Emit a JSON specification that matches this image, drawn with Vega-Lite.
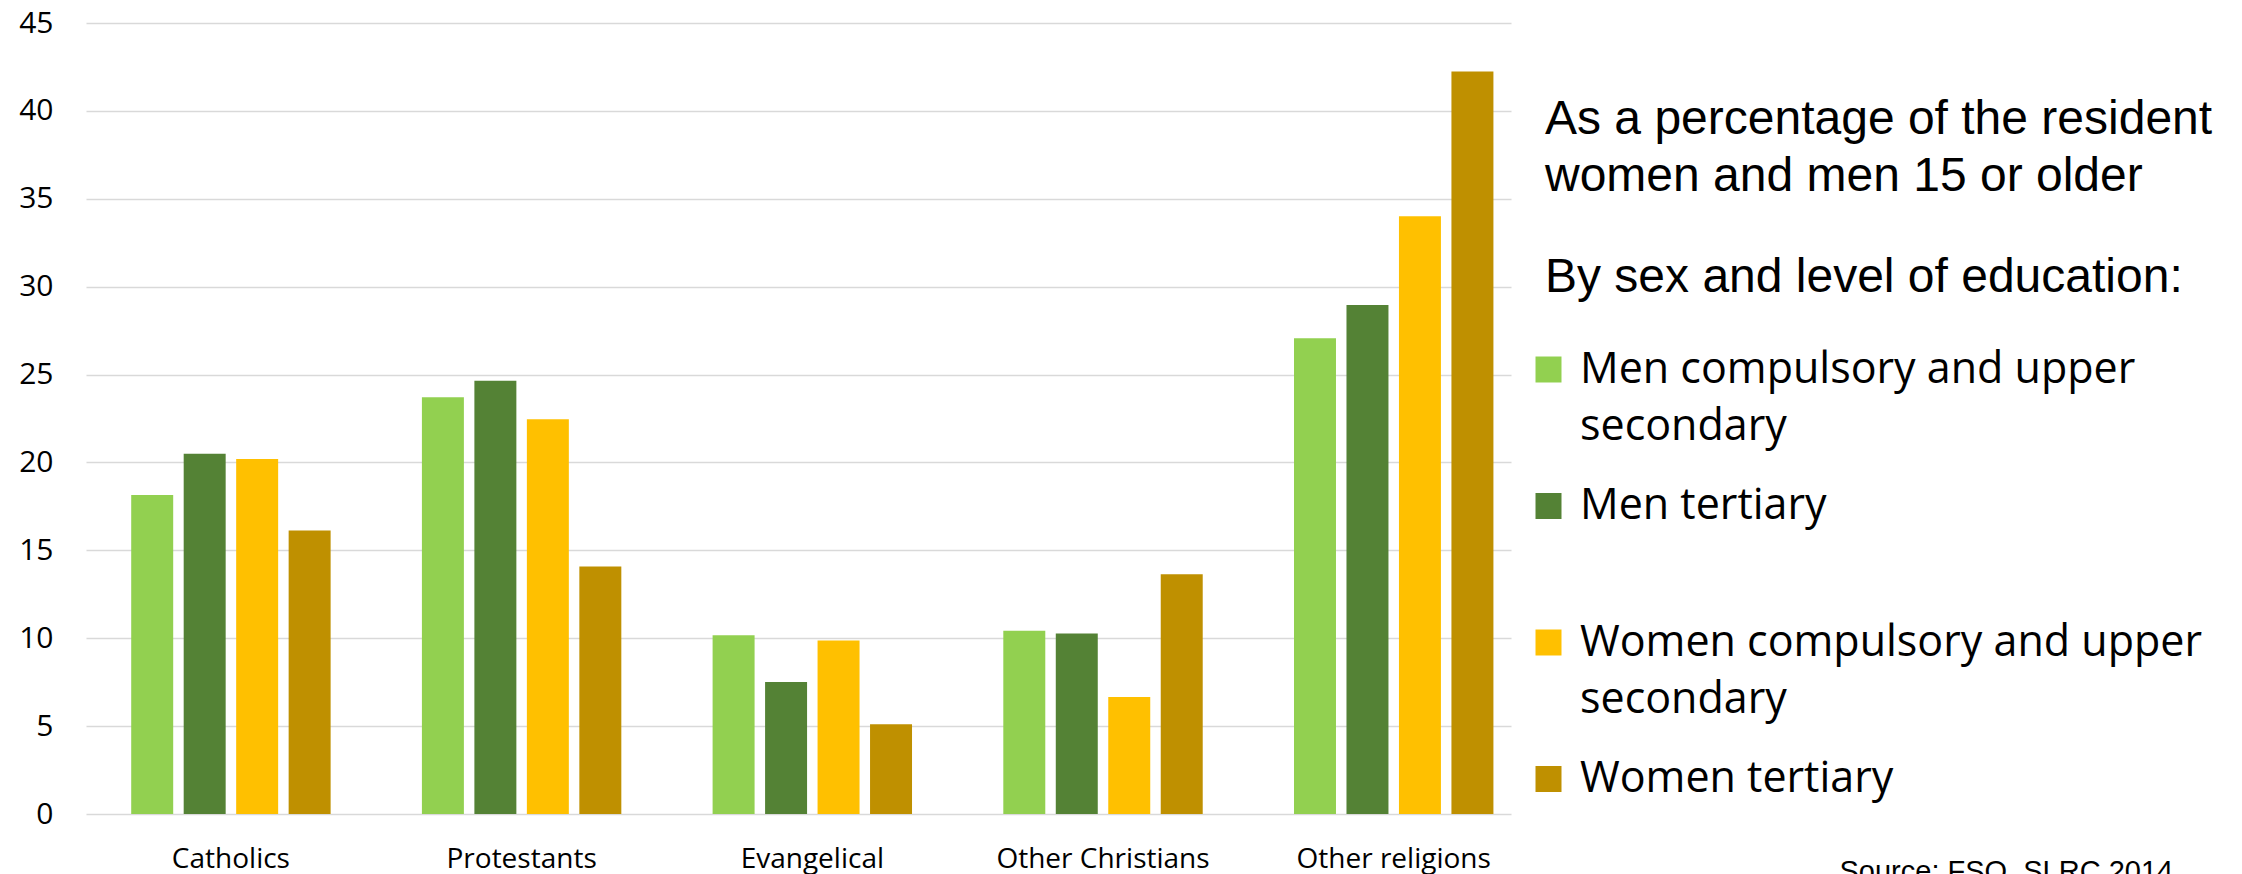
{
  "$schema": "https://vega.github.io/schema/vega-lite/v6.json",
  "width": 1425,
  "height": 791,
  "autosize": "none",
  "padding": {"left": 86, "top": 23, "right": 731, "bottom": 60},
  "background": "#ffffff",
  "title": {
    "text": ["As a percentage of the resident", "women and men 15 or older"],
    "anchor": "start",
    "frame": "group",
    "orient": "top",
    "baseline": "top",
    "font": "Liberation Sans",
    "fontSize": 48,
    "fontWeight": "normal",
    "color": "#000000",
    "lineHeight": 57,
    "dx": 1459,
    "dy": 197,
    "limit": 2000
  },
  "data": {
    "values": [
      {"religion": "Catholics", "group": "Men compulsory and upper secondary", "value": 18.15},
      {"religion": "Catholics", "group": "Men tertiary", "value": 20.5},
      {"religion": "Catholics", "group": "Women compulsory and upper secondary", "value": 20.19},
      {"religion": "Catholics", "group": "Women tertiary", "value": 16.13},
      {"religion": "Protestants", "group": "Men compulsory and upper secondary", "value": 23.71},
      {"religion": "Protestants", "group": "Men tertiary", "value": 24.65},
      {"religion": "Protestants", "group": "Women compulsory and upper secondary", "value": 22.46},
      {"religion": "Protestants", "group": "Women tertiary", "value": 14.08},
      {"religion": "Evangelical", "group": "Men compulsory and upper secondary", "value": 10.17},
      {"religion": "Evangelical", "group": "Men tertiary", "value": 7.51},
      {"religion": "Evangelical", "group": "Women compulsory and upper secondary", "value": 9.87},
      {"religion": "Evangelical", "group": "Women tertiary", "value": 5.1},
      {"religion": "Other Christians", "group": "Men compulsory and upper secondary", "value": 10.42},
      {"religion": "Other Christians", "group": "Men tertiary", "value": 10.27},
      {"religion": "Other Christians", "group": "Women compulsory and upper secondary", "value": 6.66},
      {"religion": "Other Christians", "group": "Women tertiary", "value": 13.64},
      {"religion": "Other religions", "group": "Men compulsory and upper secondary", "value": 27.07},
      {"religion": "Other religions", "group": "Men tertiary", "value": 28.96},
      {"religion": "Other religions", "group": "Women compulsory and upper secondary", "value": 34.0},
      {"religion": "Other religions", "group": "Women tertiary", "value": 42.24}
    ]
  },
  "mark": {"type": "bar"},
  "encoding": {
    "x": {
      "field": "religion",
      "type": "nominal",
      "sort": ["Catholics", "Protestants", "Evangelical", "Other Christians", "Other religions"],
      "scale": {"paddingInner": 0.314, "paddingOuter": 0.108, "align": 0.72},
      "axis": {
        "labelAngle": 0,
        "labelFont": "Open Sans",
        "labelFontSize": 28,
        "labelColor": "#000000",
        "labelPadding": 31,
        "labelLimit": 600,
        "ticks": false,
        "domain": false,
        "grid": false,
        "title": "Source: FSO, SLRC 2014",
        "titleFont": "Liberation Sans",
        "titleFontSize": 29,
        "titleFontWeight": "normal",
        "titleColor": "#000000",
        "titleAlign": "left",
        "titleBaseline": "top",
        "titleX": 1753,
        "titleY": 43
      }
    },
    "xOffset": {
      "field": "group",
      "type": "nominal",
      "sort": ["Men compulsory and upper secondary", "Men tertiary", "Women compulsory and upper secondary", "Women tertiary"],
      "scale": {"paddingInner": 0.2, "paddingOuter": 0}
    },
    "y": {
      "field": "value",
      "type": "quantitative",
      "scale": {"domain": [0, 45], "nice": false},
      "axis": {
        "values": [0, 5, 10, 15, 20, 25, 30, 35, 40, 45],
        "title": null,
        "labelFont": "Open Sans",
        "labelFontSize": 30,
        "labelColor": "#000000",
        "labelPadding": 33,
        "ticks": false,
        "domain": false,
        "grid": true,
        "gridColor": "#d9d9d9",
        "gridWidth": 1.5
      }
    },
    "color": {
      "field": "group",
      "type": "nominal",
      "sort": ["Men compulsory and upper secondary", "Men tertiary", "Women compulsory and upper secondary", "Women tertiary"],
      "scale": {
        "domain": ["Men compulsory and upper secondary", "Men tertiary", "Women compulsory and upper secondary", "Women tertiary"],
        "range": ["#92d050", "#548235", "#ffc000", "#bf9000"]
      },
      "legend": {
        "orient": "none",
        "legendX": 1459,
        "legendY": 231,
        "padding": 0,
        "title": "By sex and level of education:",
        "titleFont": "Liberation Sans",
        "titleFontSize": 48,
        "titleFontWeight": "normal",
        "titleColor": "#000000",
        "titleLimit": 2000,
        "titlePadding": 46,
        "labelFont": "Open Sans",
        "labelFontSize": 43,
        "labelColor": "#000000",
        "labelLimit": 2000,
        "labelOffset": 10,
        "labelExpr": "datum.label == 'Men compulsory and upper secondary' ? ['Men compulsory and upper', 'secondary'] : datum.label == 'Women compulsory and upper secondary' ? ['Women compulsory and upper', 'secondary'] : [datum.label, '']",
        "symbolType": "square",
        "symbolSize": 676,
        "symbolStrokeWidth": 0,
        "symbolOpacity": 1,
        "symbolOffset": -18,
        "rowPadding": 35.5
      }
    }
  },
  "config": {
    "view": {"stroke": null},
    "style": {"guide-label": {"lineHeight": 57}}
  }
}
